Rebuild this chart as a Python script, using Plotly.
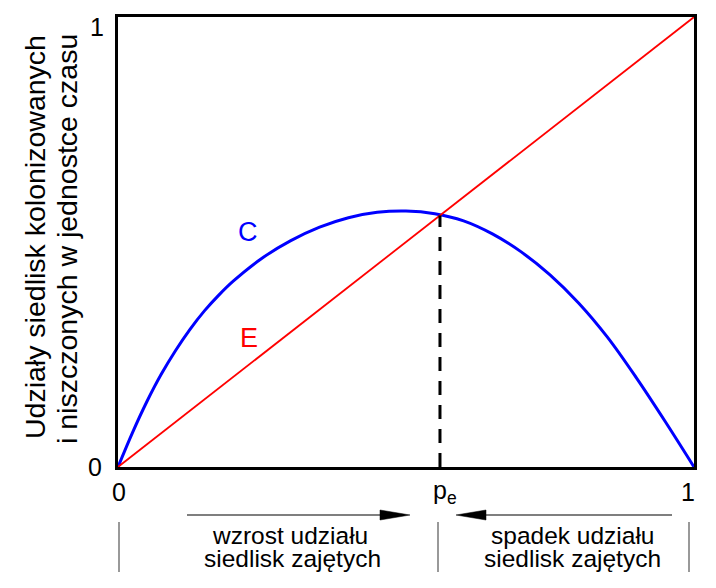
import plotly.graph_objects as go

# ---- data ----
p_vals = [0, 0.025, 0.05, 0.075, 0.10, 0.125, 0.15, 0.175, 0.20, 0.25, 0.30, 0.35, 0.40,
          0.45, 0.50, 0.55, 0.60, 0.65, 0.70, 0.75, 0.80, 0.85, 0.90, 0.95, 1.0]
c_vals = [0, 0.076, 0.145, 0.206, 0.259, 0.306, 0.347, 0.382, 0.413, 0.464, 0.503, 0.533, 0.554,
          0.566, 0.569, 0.563, 0.547, 0.518, 0.478, 0.427, 0.364, 0.288, 0.198, 0.101, 0]
e_x = [0, 1]
e_y = [0, 1]
p_e = 0.559
tick_vals = [0, 1]
tick_text = ["0", "1"]

FONT = "Liberation Sans, Arial, sans-serif"
W, H = 716, 588
L, R, T, B = 118, 22, 17, 121
PW, PH = W - L - R, H - T - B


def px(x):
    return (x - L) / PW


def py(y):
    return (H - B - y) / PH


fig = go.Figure()
fig.add_trace(go.Scatter(x=p_vals, y=c_vals, mode="lines",
                         line=dict(color="#0000ff", width=3, shape="spline", smoothing=1.0),
                         hoverinfo="skip", showlegend=False))
fig.add_trace(go.Scatter(x=e_x, y=e_y, mode="lines",
                         line=dict(color="#ff0000", width=1.8),
                         hoverinfo="skip", showlegend=False))
fig.add_trace(go.Scatter(x=[p_e, p_e], y=[0, p_e], mode="lines",
                         line=dict(color="black", width=3, dash="14px,10px"),
                         hoverinfo="skip", showlegend=False))

ann = []
# tick labels
ann.append(dict(x=tick_vals[0], y=tick_vals[0], xref="x", yref="y", text=tick_text[0],
                xanchor="center", yanchor="middle", xshift=-23, yshift=0, showarrow=False,
                font=dict(size=25, color="black", family=FONT)))
ann.append(dict(x=tick_vals[0], y=tick_vals[1], xref="x", yref="y", text=tick_text[1],
                xanchor="center", yanchor="middle", xshift=-21, yshift=-10, showarrow=False,
                font=dict(size=25, color="black", family=FONT)))
ann.append(dict(x=tick_vals[0], y=tick_vals[0], xref="x", yref="y", text=tick_text[0],
                xanchor="center", yanchor="middle", xshift=1, yshift=-25, showarrow=False,
                font=dict(size=25, color="black", family=FONT)))
ann.append(dict(x=tick_vals[1], y=tick_vals[0], xref="x", yref="y", text=tick_text[1],
                xanchor="center", yanchor="middle", xshift=-6, yshift=-25, showarrow=False,
                font=dict(size=25, color="black", family=FONT)))
# p_e label
ann.append(dict(x=p_e, y=0, xref="x", yref="y", text="p<sub>e</sub>",
                xanchor="center", yanchor="middle", xshift=5, yshift=-25, showarrow=False,
                font=dict(size=25, color="black", family=FONT)))
# curve labels
ann.append(dict(x=px(248), y=py(232), xref="paper", yref="paper", text="C", showarrow=False,
                xanchor="center", yanchor="middle", font=dict(size=27, color="#0000ff", family=FONT)))
ann.append(dict(x=px(249), y=py(338), xref="paper", yref="paper", text="E", showarrow=False,
                xanchor="center", yanchor="middle", font=dict(size=27, color="#ff0000", family=FONT)))
# y title (two lines)
ann.append(dict(x=px(35), y=py(237), xref="paper", yref="paper", text="Udziały siedlisk kolonizowanych",
                textangle=-90, showarrow=False, xanchor="center", yanchor="middle",
                font=dict(size=28.5, color="black", family=FONT)))
ann.append(dict(x=px(67), y=py(239), xref="paper", yref="paper", text="i niszczonych w jednostce czasu",
                textangle=-90, showarrow=False, xanchor="center", yanchor="middle",
                font=dict(size=28.5, color="black", family=FONT)))
# bottom texts
for txt, cx, cy in [("wzrost udziału", 290, 535), ("siedlisk zajętych", 292, 558),
                    ("spadek udziału", 572, 535), ("siedlisk zajętych", 572, 558)]:
    ann.append(dict(x=px(cx), y=py(cy), xref="paper", yref="paper", text=txt, showarrow=False,
                    xanchor="center", yanchor="middle", font=dict(size=24.5, color="black", family=FONT)))

shapes = []
# separators
for sx in [119, 438, 689]:
    shapes.append(dict(type="line", xref="paper", yref="paper", x0=px(sx), x1=px(sx),
                       y0=py(522), y1=py(572), line=dict(color="#555555", width=1.2)))
# arrow shafts
shapes.append(dict(type="line", xref="paper", yref="paper", x0=px(187), x1=px(385),
                   y0=py(515), y1=py(515), line=dict(color="#555555", width=1.5)))
shapes.append(dict(type="line", xref="paper", yref="paper", x0=px(480), x1=px(672),
                   y0=py(515), y1=py(515), line=dict(color="#555555", width=1.5)))


def tri(tip, base, yc, hh):
    return (f"M {px(tip)} {py(yc)} L {px(base)} {py(yc - hh)} L {px(base)} {py(yc + hh)} Z")


shapes.append(dict(type="path", xref="paper", yref="paper", path=tri(410, 380, 515, 5),
                   fillcolor="black", line=dict(color="black", width=0.5)))
shapes.append(dict(type="path", xref="paper", yref="paper", path=tri(456, 486, 515, 5),
                   fillcolor="black", line=dict(color="black", width=0.5)))

axis = dict(range=[0, 1], showgrid=False, zeroline=False, showticklabels=False, ticks="",
            showline=True, mirror=True, linecolor="black", linewidth=2.5, fixedrange=True)
fig.update_layout(width=W, height=H, margin=dict(l=L, r=R, t=T, b=B),
                  plot_bgcolor="white", paper_bgcolor="white",
                  xaxis=axis, yaxis=axis, annotations=ann, shapes=shapes, showlegend=False)
fig.write_html("out.html")
